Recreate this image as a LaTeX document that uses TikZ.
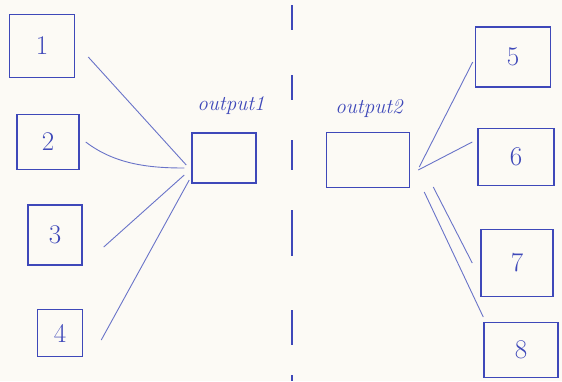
\documentclass[tikz,border=0pt]{standalone}
\usetikzlibrary{calc}
\definecolor{ink}{RGB}{62,72,185}
\definecolor{inklight}{RGB}{105,115,200}
\definecolor{paper}{RGB}{252,250,245}
\tikzset{
  box/.style={draw=ink, line width=1.5pt, inner sep=0pt, text=ink, font=\fontsize{27}{27}\selectfont},
  conn/.style={draw=inklight, line width=0.9pt},
  divider/.style={draw=ink, line width=1.5pt},
  lbl/.style={text=ink, inner sep=0pt, font=\fontsize{21}{21}\selectfont\itshape}
}
\begin{document}
\begin{tikzpicture}[x=1pt, y=-1pt]
  \fill[paper] (0,0) rectangle (562,381);
  \useasboundingbox (0,0) rectangle (562,381);

  % left inputs
  \node[box, minimum width=65pt, minimum height=63pt] (b1) at (42,46) {1};
  \node[box, minimum width=62pt, minimum height=55pt] (b2) at (48,142) {2};
  \node[box, minimum width=54pt, minimum height=60pt] (b3) at (55,235) {3};
  \node[box, minimum width=45pt, minimum height=47pt] (b4) at (60,333) {4};

  % outputs
  \node[box, minimum width=64pt, minimum height=50pt] (o1) at (224,158) {};
  \node[box, minimum width=83pt, minimum height=55pt] (o2) at (368,160) {};
  \node[lbl] (l1) at (231,106) {output1};
  \node[lbl] (l2) at (369,109) {output2};

  % right inputs
  \node[box, minimum width=75pt, minimum height=60pt] (b5) at (513,57) {5};
  \node[box, minimum width=76pt, minimum height=57pt] (b6) at (516,157) {6};
  \node[box, minimum width=72pt, minimum height=67pt] (b7) at (517,263) {7};
  \node[box, minimum width=74pt, minimum height=55pt] (b8) at (521,350) {8};

  % divider
  \draw[divider] (292,5) -- (292,30) (292,75) -- (292,100) (292,140) -- (292,170)
                 (292,210) -- (292,256) (292,310) -- (292,345) (292,375) -- (292,381);

  % left connectors
  \draw[conn] ($(b1.east)+(13,11)$) -- ($(o1.west)+(-5,7)$);
  \draw[conn] ($(b2.east)+(6,0)$) .. controls ($(b2.east)+(36,23)$) and ($(o1.west)+(-40,10)$) .. ($(o1.west)+(-7,10)$);
  \draw[conn] ($(b3.east)+(21,12)$) -- ($(o1.west)+(-7,17)$);
  \draw[conn] ($(b4.east)+(18,7)$) -- ($(o1.west)+(-2,22)$);

  % right connectors
  \draw[conn] ($(o2.east)+(9,7)$) -- ($(b5.west)+(-2,5)$);
  \draw[conn] ($(o2.east)+(8,10)$) -- ($(b6.west)+(-5,-15)$);
  \draw[conn] ($(o2.east)+(23,27)$) -- ($(b7.west)+(-8,0)$);
  \draw[conn] ($(o2.east)+(14,32)$) -- ($(b8.west)+(0,-33)$);
\end{tikzpicture}
\end{document}
